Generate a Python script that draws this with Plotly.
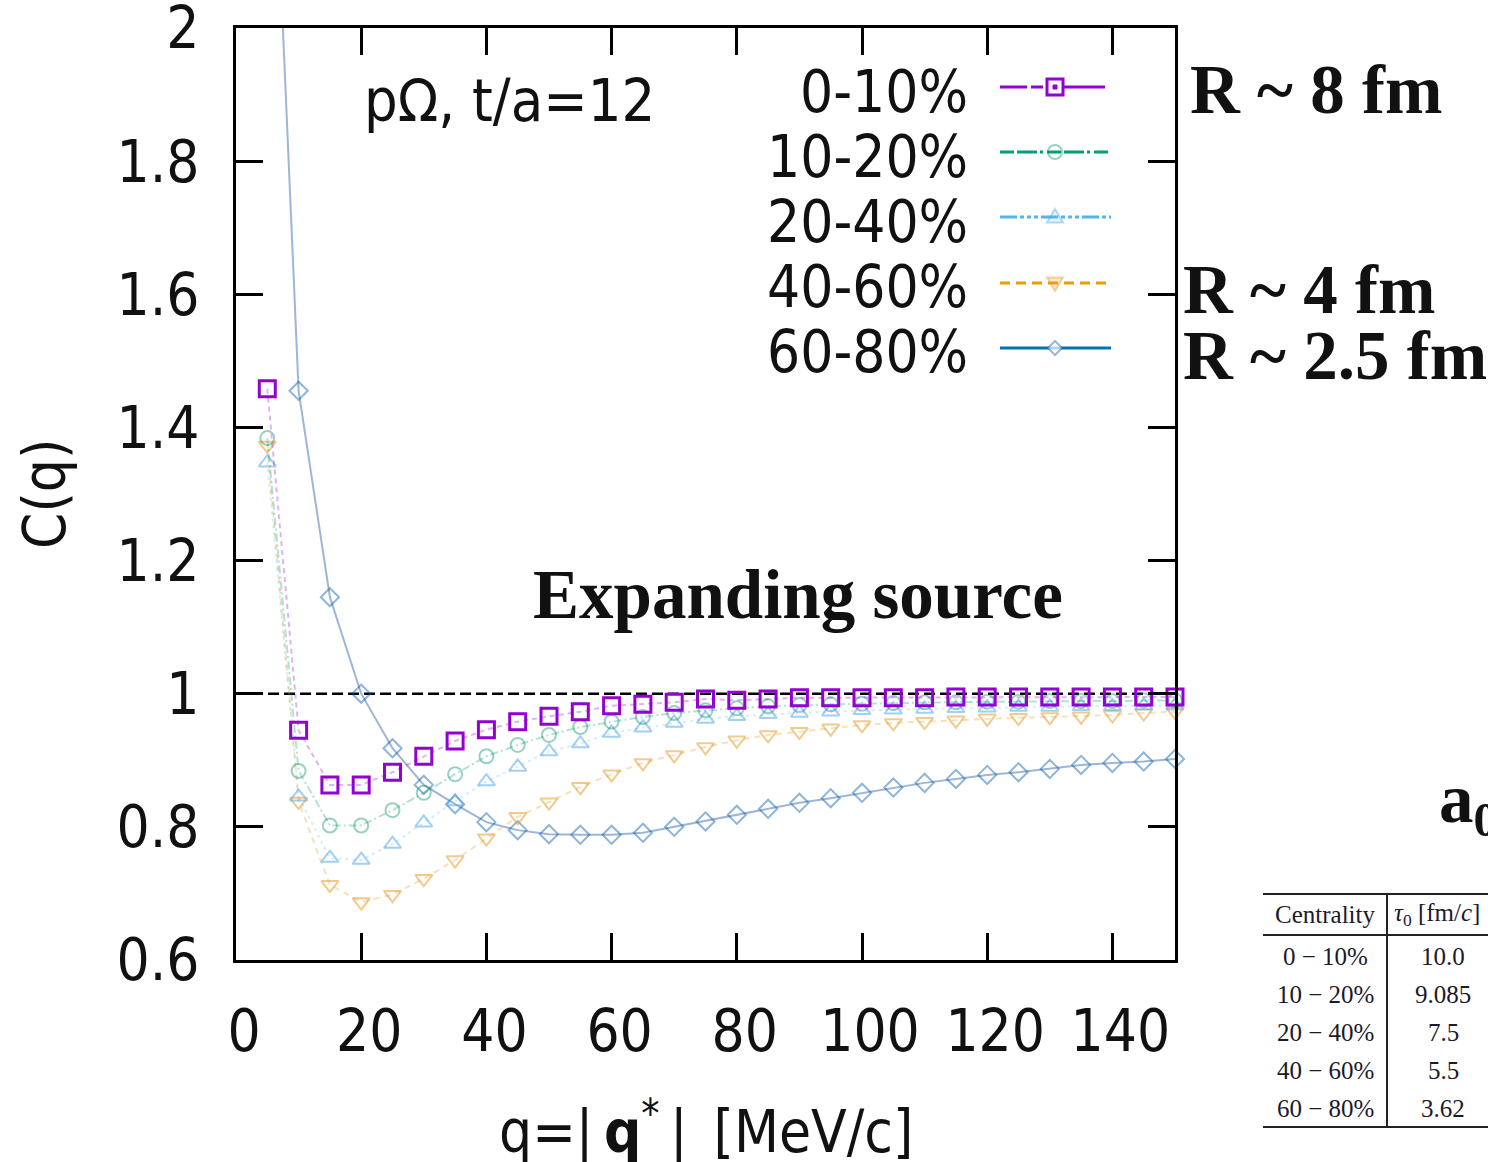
import plotly.graph_objects as go

# ---------------- data ----------------
q = [5, 10, 15, 20, 25, 30, 35, 40, 45, 50, 55, 60, 65, 70, 75,
     80, 85, 90, 95, 100, 105, 110, 115, 120, 125, 130, 135, 140, 145, 150]

c_0_10 = [1.458, 0.945, 0.863, 0.863, 0.882, 0.906, 0.929, 0.946, 0.958, 0.966,
          0.973, 0.982, 0.984, 0.987, 0.992, 0.990, 0.992, 0.994, 0.994, 0.994,
          0.994, 0.994, 0.995, 0.995, 0.995, 0.995, 0.995, 0.995, 0.995, 0.995]
c_10_20 = [1.384, 0.884, 0.802, 0.802, 0.825, 0.851, 0.879, 0.906, 0.923, 0.938,
           0.950, 0.958, 0.965, 0.971, 0.975, 0.978, 0.981, 0.983, 0.984, 0.985,
           0.986, 0.987, 0.987, 0.988, 0.988, 0.989, 0.989, 0.989, 0.990, 0.990]
c_20_40 = [1.347, 0.845, 0.753, 0.750, 0.774, 0.806, 0.838, 0.868, 0.890, 0.913,
           0.925, 0.941, 0.949, 0.956, 0.962, 0.966, 0.969, 0.971, 0.973, 0.975,
           0.976, 0.977, 0.978, 0.979, 0.980, 0.980, 0.981, 0.981, 0.982, 0.982]
c_40_60 = [1.373, 0.838, 0.713, 0.687, 0.698, 0.722, 0.750, 0.783, 0.815, 0.837,
           0.860, 0.879, 0.896, 0.908, 0.920, 0.930, 0.938, 0.943, 0.948, 0.953,
           0.956, 0.958, 0.960, 0.963, 0.964, 0.965, 0.966, 0.968, 0.971, 0.973]
c_60_80 = [2.540, 1.455, 1.145, 1.000, 0.918, 0.863, 0.834, 0.807, 0.795, 0.789,
           0.788, 0.788, 0.791, 0.800, 0.808, 0.818, 0.827, 0.836, 0.843, 0.851,
           0.859, 0.866, 0.872, 0.878, 0.882, 0.887, 0.893, 0.896, 0.898, 0.902]

centralities = ["0-10%", "10-20%", "20-40%", "40-60%", "60-80%"]
radius_labels = ["R ~ 8 fm", "R ~ 4 fm", "R ~ 2.5 fm"]
table_centrality = ["0 \u2212 10%", "10 \u2212 20%", "20 \u2212 40%", "40 \u2212 60%", "60 \u2212 80%"]
table_tau0 = ["10.0", "9.085", "7.5", "5.5", "3.62"]

x_ticks = [0, 20, 40, 60, 80, 100, 120, 140]
y_ticks = [0.6, 0.8, 1.0, 1.2, 1.4, 1.6, 1.8, 2.0]
y_ticktext = ["0.6", "0.8", "1", "1.2", "1.4", "1.6", "1.8", "2"]

# ---------------- geometry helpers ----------------
PL, PR, PT, PB = 236, 1175, 28, 960
W, H = 1488, 1162


def px(x):
    return (x - PL) / (PR - PL)


def py(y):
    return (PB - y) / (PB - PT)


SANS = "DejaVu Sans Condensed, DejaVu Sans, Liberation Sans, sans-serif"
SERIF = "Liberation Serif, Times New Roman, serif"
TXT = "#111111"
FS = 58

PURPLE = "rgb(148,0,211)"
GREEN = "rgb(0,158,115)"
LBLUE = "rgb(86,180,233)"
ORANGE = "rgb(230,159,0)"
BLUE = "rgb(0,114,178)"

fig = go.Figure()

series = [
    (c_60_80, centralities[4], "diamond-open", "rgba(0,90,170,0.45)", "rgba(60,110,175,0.5)", "solid", 14),
    (c_40_60, centralities[3], "triangle-down-open", "rgba(230,150,30,0.5)", "rgba(235,165,60,0.35)", "6px,5px", 15),
    (c_20_40, centralities[2], "triangle-up-open", "rgba(86,170,233,0.55)", "rgba(86,180,233,0.25)", "3px,4px", 15),
    (c_10_20, centralities[1], "circle-open", "rgba(0,140,100,0.4)", "rgba(0,158,115,0.3)", "8px,3px,2px,3px", 14),
]
for ys, name, sym, mcol, lcol, dash, size in series:
    fig.add_trace(go.Scatter(
        x=q, y=ys, name=name, mode="lines+markers",
        line=dict(color=lcol, width=2, dash=dash),
        marker=dict(symbol=sym, size=size, color=mcol, line=dict(color=mcol, width=2)),
        cliponaxis=False, showlegend=False))

fig.add_trace(go.Scatter(
    x=q, y=c_0_10, name=centralities[0], mode="lines+markers",
    line=dict(color="rgba(148,0,211,0.3)", width=2, dash="5px,4px"),
    marker=dict(symbol="square-open", size=16, color=PURPLE, line=dict(color=PURPLE, width=3)),
    cliponaxis=False, showlegend=False))

shapes = []
# dashed reference line at C(q)=1
shapes.append(dict(type="line", xref="paper", yref="y", x0=0, x1=1, y0=1, y1=1,
                   line=dict(color="black", width=2.5, dash="11px,5px"), layer="below"))

# ---------------- manual legend ----------------
leg_y = [87, 152, 217, 283, 348]
lab_y = [92, 157, 222, 287, 352]
MX = 1055


def hline(x0, x1, y, color, dash="solid", width=3):
    return dict(type="line", xref="paper", yref="paper", x0=px(x0), x1=px(x1),
                y0=py(y), y1=py(y), line=dict(color=color, width=width, dash=dash))


shapes.append(hline(1000, 1045, leg_y[0], PURPLE, "27px,4px,12px,4px"))
shapes.append(hline(1062, 1105, leg_y[0], PURPLE))
shapes.append(hline(1000, 1111, leg_y[1], GREEN, "14px,3px,20px,3px,3px,4px"))
shapes.append(hline(1000, 1111, leg_y[2], LBLUE, "17px,3px,4px,3px,4px,3px,4px,3px"))
shapes.append(hline(1000, 1106, leg_y[3], ORANGE, "10px,6px"))
shapes.append(hline(1000, 1111, leg_y[4], BLUE))

# legend markers
s = 8
shapes.append(dict(type="rect", xref="paper", yref="paper",
                   x0=px(MX - s), x1=px(MX + s), y0=py(leg_y[0] + s), y1=py(leg_y[0] - s),
                   line=dict(color=PURPLE, width=3), fillcolor="white"))
shapes.append(dict(type="rect", xref="paper", yref="paper",
                   x0=px(MX - 2), x1=px(MX + 2), y0=py(leg_y[0] + 2), y1=py(leg_y[0] - 2),
                   line=dict(color=PURPLE, width=1), fillcolor=PURPLE))
shapes.append(dict(type="circle", xref="paper", yref="paper",
                   x0=px(MX - 7), x1=px(MX + 7), y0=py(leg_y[1] + 7), y1=py(leg_y[1] - 7),
                   line=dict(color="rgba(0,140,100,0.4)", width=2)))


def tri(cx, cy, up, r=8):
    if up:
        pts = [(cx, cy - r), (cx - r, cy + r * 0.7), (cx + r, cy + r * 0.7)]
    else:
        pts = [(cx, cy + r), (cx - r, cy - r * 0.7), (cx + r, cy - r * 0.7)]
    return "M " + " L ".join(f"{px(a):.5f},{py(b):.5f}" for a, b in pts) + " Z"


shapes.append(dict(type="path", xref="paper", yref="paper", path=tri(MX, leg_y[2], True),
                   line=dict(color="rgba(86,170,233,0.45)", width=2), fillcolor="rgba(86,180,233,0.15)"))
shapes.append(dict(type="path", xref="paper", yref="paper", path=tri(MX, leg_y[3], False),
                   line=dict(color="rgba(230,150,30,0.4)", width=2), fillcolor="rgba(235,165,60,0.25)"))
d = 7
dpath = (f"M {px(MX):.5f},{py(leg_y[4]-d):.5f} L {px(MX+d):.5f},{py(leg_y[4]):.5f} "
         f"L {px(MX):.5f},{py(leg_y[4]+d):.5f} L {px(MX-d):.5f},{py(leg_y[4]):.5f} Z")
shapes.append(dict(type="path", xref="paper", yref="paper", path=dpath,
                   line=dict(color="rgba(60,110,175,0.5)", width=2), fillcolor="rgba(255,255,255,0.7)"))

# ---------------- table ----------------
TL, TV, TR = 1263, 1387, 1500
for yy in (894, 935, 1127):
    shapes.append(dict(type="line", xref="paper", yref="paper", x0=px(TL), x1=px(TR),
                       y0=py(yy), y1=py(yy), line=dict(color="#222", width=2)))
shapes.append(dict(type="line", xref="paper", yref="paper", x0=px(TV), x1=px(TV),
                   y0=py(894), y1=py(1127), line=dict(color="#222", width=2)))

annotations = []


def ann(text, x, y, size, family=SANS, xanchor="center", yanchor="middle", angle=0,
        color=TXT, height=None):
    a = dict(text=text, x=px(x), y=py(y), xref="paper", yref="paper",
             showarrow=False, xanchor=xanchor, yanchor=yanchor,
             textangle=angle, font=dict(family=family, size=size, color=color))
    if height is not None:
        a["height"] = height
    annotations.append(a)


ann("p\u03a9, t/a=12", 362, 100, 59, xanchor="left")
for lab, yy in zip(centralities, lab_y):
    ann(lab, 970, yy, FS, xanchor="right", height=60)

SF = 69
ann("<b>Expanding source</b>", 798, 595, SF, family=SERIF)
ann("<b>" + radius_labels[0] + "</b>", 1188, 90, SF, family=SERIF, xanchor="left", height=56)
ann("<b>" + radius_labels[1] + "</b>", 1181, 290, SF, family=SERIF, xanchor="left", height=56)
ann("<b>" + radius_labels[2] + "</b>", 1181, 356, SF, family=SERIF, xanchor="left", height=56)
ann("<b>a<sub>0</sub></b>", 1437, 803, SF, family=SERIF, xanchor="left")

ann("C(q)", 45, 494, FS, angle=-90)
ann("q=|\u2009<b>q</b><sup>*</sup>\u2009|\u2002[MeV/c]", 706, 1128, FS)

TC = "#1a1a2a"
ann("Centrality", 1325, 914, 25, family=SERIF, color=TC)
ann("<i>\u03c4</i><sub>0</sub> [fm/<i>c</i>]", 1392, 914, 25, family=SERIF, xanchor="left", color=TC)
for i, (cl, tv) in enumerate(zip(table_centrality, table_tau0)):
    yy = 956 + i * 38
    ann(cl, 1325, yy, 25, family=SERIF, color=TC, height=30)
    ann(tv, 1443, yy, 25, family=SERIF, color=TC, height=30)

axis_common = dict(showgrid=False, zeroline=False, showline=True, linecolor="black",
                   linewidth=3, mirror="ticks", ticks="inside", ticklen=27, tickwidth=3,
                   tickcolor="black", tickfont=dict(family=SANS, size=FS, color=TXT),
                   ticklabeloverflow="allow", automargin=False)

fig.update_layout(
    width=W, height=H,
    margin=dict(l=PL, r=W - PR, t=PT, b=H - PB, pad=0, autoexpand=False),
    paper_bgcolor="white", plot_bgcolor="white",
    xaxis=dict(range=[0, 150], tickvals=x_ticks, ticklabelstandoff=18, ticklabelshift=8,
               **axis_common),
    yaxis=dict(range=[0.5999, 2.0001], tickvals=y_ticks, ticktext=y_ticktext,
               ticklabelstandoff=22, **axis_common),
    shapes=shapes, annotations=annotations, showlegend=False,
)

fig.write_html("out.html")
